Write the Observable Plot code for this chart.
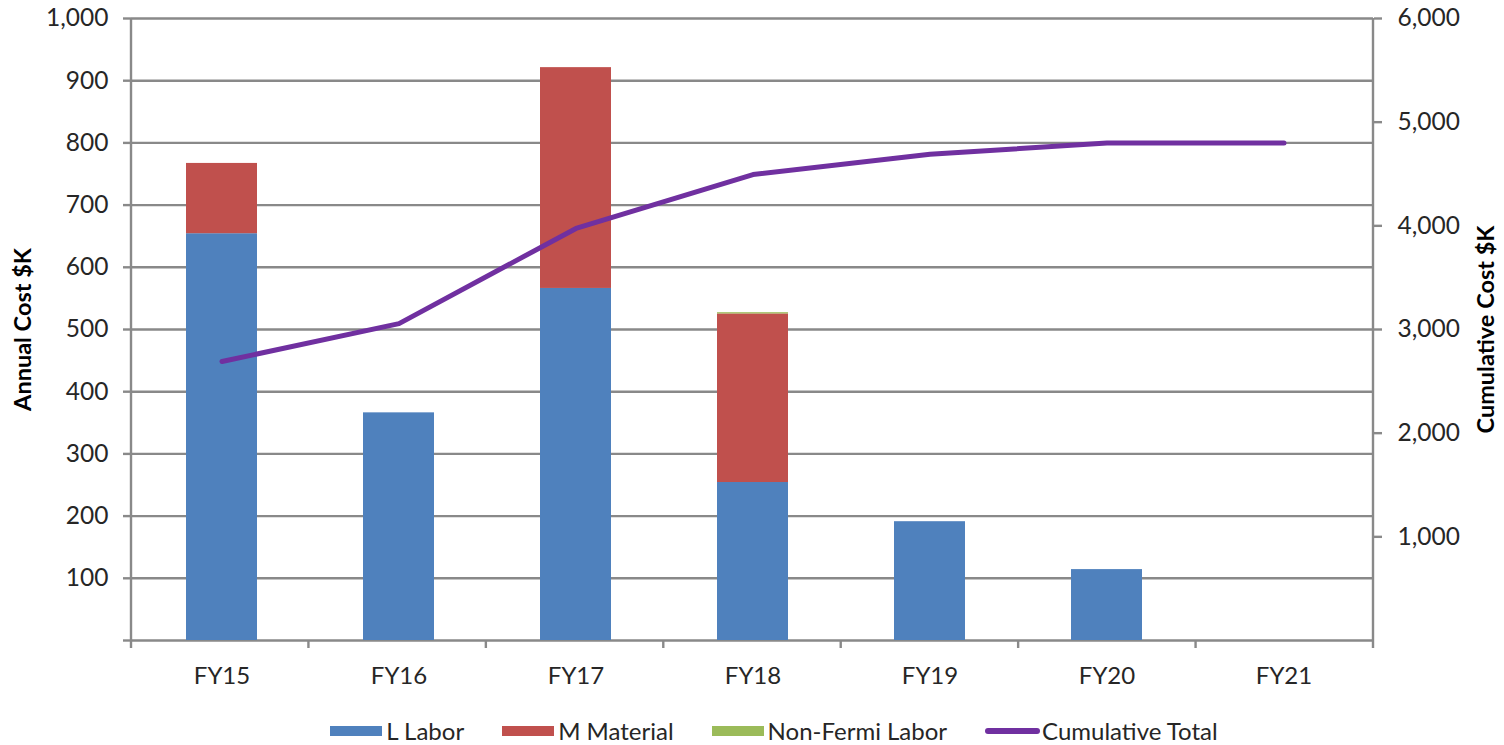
<!DOCTYPE html>
<html><head><meta charset="utf-8">
<script src="https://cdn.jsdelivr.net/npm/d3@7"></script>
<script src="https://cdn.jsdelivr.net/npm/@observablehq/plot@0.6"></script>
<style>
body{margin:0;background:#fff;font-family:Lato,sans-serif;}
#legend{display:flex;justify-content:center;align-items:center;font-size:24px;color:#262626;margin-top:11px;padding-left:44px;}
.item{display:flex;align-items:center;margin:0 19px;}
.sw{width:52px;height:10px;margin-right:4px;}
.ln{width:55px;height:6px;border-radius:3px;margin-right:2px;}
</style></head><body><div id="chart"></div><div id="legend"></div>
<script>
const years = ["FY15","FY16","FY17","FY18","FY19","FY20","FY21"];
const labor = [654, 366, 566, 254, 191, 114, 0];
const material = [113, 0, 355, 271, 0, 0, 0];
const nonFermi = [0, 0, 0, 2, 0, 0, 0];
const cumulative = [2691, 3057, 3975, 4495, 4690, 4800, 4800];
const seriesNames = ["L Labor", "M Material", "Non-Fermi Labor"];
const seriesColors = ["#4F81BD", "#C0504D", "#9BBB59"];
const lineName = "Cumulative Total";
const lineColor = "#7030A0";
const leftTicks = [100,200,300,400,500,600,700,800,900,1000];
const rightTicks = [1000,2000,3000,4000,5000,6000];
const rightMax = 6000, leftMax = 1000;
const ratio = rightMax / leftMax;

const seriesValues = [labor, material, nonFermi];
const stackData = [];
seriesNames.forEach((s, si) => years.forEach((y, i) => stackData.push({year: y, series: s, value: seriesValues[si][i]})));
const lineData = years.map((y, i) => ({year: y, cum: cumulative[i] / ratio}));

const gridColor = "#898989";
const textColor = "#262626";

const frameLines = (index, scales, values, dims) => {
  const {marginLeft: l, marginRight: r, marginTop: t, marginBottom: b, width: w, height: h} = dims;
  const x0 = l, x1 = w - r, y0 = t, y1 = h - b;
  const g = d3.create("svg:g").attr("stroke", gridColor).attr("stroke-width", 2.4);
  g.append("line").attr("x1", x0).attr("x2", x0).attr("y1", y0).attr("y2", y1 + 8);
  g.append("line").attr("x1", x1).attr("x2", x1).attr("y1", y0).attr("y2", y1 + 8);
  const step = (x1 - x0) / years.length;
  for (let i = 1; i < years.length; i++) {
    const xx = x0 + i * step;
    g.append("line").attr("x1", xx).attr("x2", xx).attr("y1", y1).attr("y2", y1 + 8);
  }
  return g.node();
};

const chart = Plot.plot({
  width: 1504,
  height: 705,
  marginLeft: 131,
  marginRight: 131,
  marginTop: 18,
  marginBottom: 65,
  style: {fontFamily: "Lato, sans-serif", color: textColor, background: "#fff"},
  x: {domain: years, paddingInner: 0.6, paddingOuter: 0.3, label: null},
  y: {domain: [0, leftMax], label: null},
  color: {domain: seriesNames, range: seriesColors},
  marks: [
    Plot.ruleY(leftTicks, {stroke: gridColor, strokeWidth: 2.4}),
    Plot.ruleY([0], {stroke: gridColor, strokeWidth: 2.4}),
    Plot.barY(stackData, {x: "year", y: "value", fill: "series"}),
    Plot.lineY(lineData, {x: "year", y: "cum", stroke: lineColor, strokeWidth: 5, strokeLinecap: "round", strokeLinejoin: "round"}),
    frameLines,
    Plot.axisY({anchor: "left", ticks: [0, ...leftTicks], tickFormat: d => d === 0 ? "" : d3.format(",")(d), tickSize: 8, tickPadding: 15, fontSize: 24.5, stroke: gridColor, strokeWidth: 2.4, fill: textColor, label: null}),
    Plot.axisY({anchor: "right", ticks: rightTicks.map(v => v / ratio), tickFormat: d => d3.format(",")(Math.round(d * ratio)), tickSize: 8, tickPadding: 16, fontSize: 24.5, stroke: gridColor, strokeWidth: 2.4, fill: textColor, label: null}),
    Plot.axisX({tickSize: 0, tickPadding: 26, fontSize: 24, fill: textColor, label: null}),
    Plot.text(["Annual Cost $K"], {frameAnchor: "left", textAnchor: "middle", dx: -108, rotate: -90, fontWeight: "bold", fontSize: 23.5, fill: "#000"}),
    Plot.text(["Cumulative Cost $K"], {frameAnchor: "right", textAnchor: "middle", dx: 113, rotate: -90, fontWeight: "bold", fontSize: 23.5, fill: "#000"})
  ]
});
document.getElementById("chart").append(chart);

const legend = document.getElementById("legend");
seriesNames.forEach((s, i) => {
  const it = document.createElement("div"); it.className = "item";
  const sw = document.createElement("span"); sw.className = "sw"; sw.style.background = seriesColors[i];
  it.append(sw, document.createTextNode(s)); legend.append(it);
});
const it = document.createElement("div"); it.className = "item";
const ln = document.createElement("span"); ln.className = "ln"; ln.style.background = lineColor;
it.append(ln, document.createTextNode(lineName)); legend.append(it);
</script></body></html>
